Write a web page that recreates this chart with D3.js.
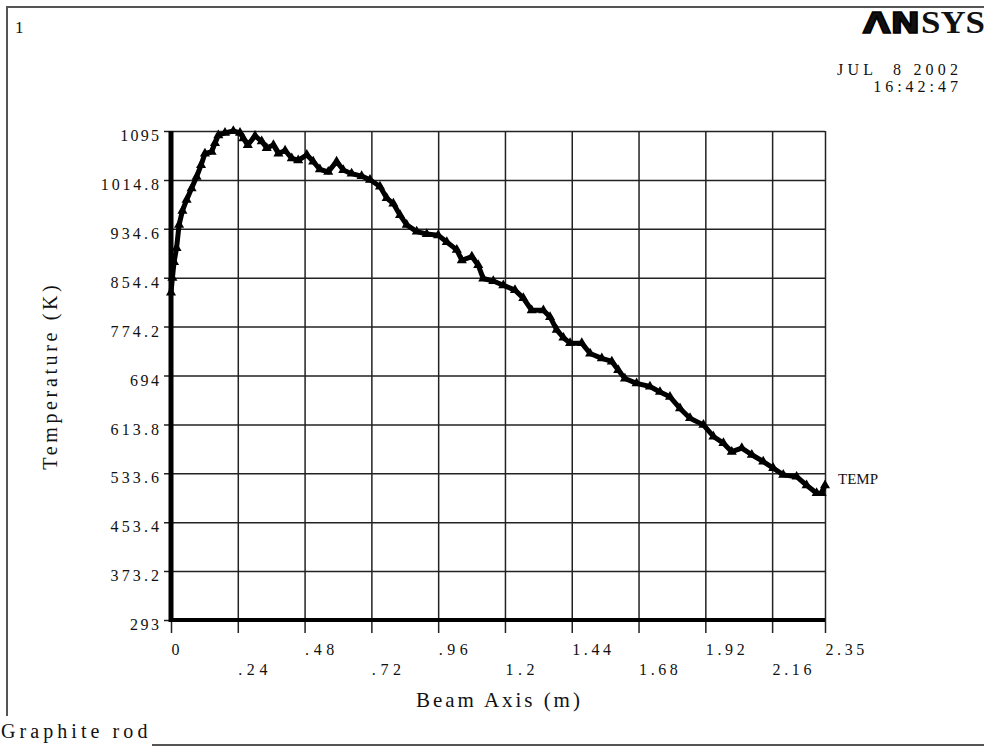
<!DOCTYPE html>
<html>
<head>
<meta charset="utf-8">
<script src="https://cdn.jsdelivr.net/npm/d3@7"></script>
<style>
  body { margin: 0; background: #fff; }
  svg { display: block; }
  text { font-family: "Liberation Serif", "DejaVu Serif", serif; fill: #111; white-space: pre; }
</style>
</head>
<body>
<div class="chart"></div>
<script>
// beam position (m) and temperature (K)
const beamPos = [
  0, 0.005, 0.011, 0.020, 0.029, 0.041, 0.056, 0.074, 0.092, 0.108,
  0.122, 0.146, 0.158, 0.170, 0.194, 0.224, 0.248, 0.260, 0.276, 0.302,
  0.326, 0.344, 0.368, 0.386, 0.410, 0.434, 0.457, 0.488, 0.511, 0.535,
  0.565, 0.595, 0.619, 0.649, 0.685, 0.715, 0.751, 0.775, 0.799, 0.823,
  0.847, 0.883, 0.919, 0.960, 0.991, 1.027, 1.045, 1.081, 1.104, 1.122,
  1.158, 1.194, 1.236, 1.266, 1.296, 1.338, 1.362, 1.386, 1.410, 1.434,
  1.476, 1.506, 1.548, 1.584, 1.607, 1.631, 1.673, 1.721, 1.757, 1.793,
  1.829, 1.865, 1.913, 1.949, 1.985, 2.015, 2.051, 2.087, 2.128, 2.164,
  2.200, 2.248, 2.284, 2.320, 2.338, 2.350
];
const temp = [
  830, 854, 880, 903, 941, 964, 982, 1001, 1020, 1039,
  1058, 1061, 1075, 1088, 1092, 1095, 1092, 1083, 1072, 1087,
  1078, 1067, 1072, 1058, 1063, 1050, 1047, 1056, 1045, 1032,
  1028, 1045, 1031, 1025, 1021, 1015, 1004, 985, 976, 957,
  941, 930, 926, 924, 913, 900, 883, 889, 875, 853,
  849, 842, 834, 821, 801, 801, 790, 769, 756, 747,
  747, 730, 722, 717, 703, 689, 681, 676, 667, 659,
  640, 624, 613, 594, 583, 569, 575, 564, 553, 542,
  531, 528, 514, 501, 501, 514
];

const xTicks = [0, 0.24, 0.48, 0.72, 0.96, 1.2, 1.44, 1.68, 1.92, 2.16, 2.35];
const xTickLabels = ["0", ".24", ".48", ".72", ".96", "1.2", "1.44", "1.68", "1.92", "2.16", "2.35"];
const yTicks = [293, 373.2, 453.4, 533.6, 613.8, 694, 774.2, 854.4, 934.6, 1014.8, 1095];
const yTickLabels = ["293", "373.2", "453.4", "533.6", "613.8", "694", "774.2", "854.4", "934.6", "1014.8", "1095"];

const w = 984, h = 746;
const plotLeft = 171, plotRight = 825, plotTop = 131, plotBottom = 620;

const data = beamPos.map((d, i) => ({ x: d, t: temp[i] }));

// spread a serif string out to a fixed per-character pitch (typewriter look)
function pitch(sel, adv) {
  sel.attr("textLength", function () {
    return this.textContent.length * adv;
  }).attr("lengthAdjust", "spacing");
}

const svg = d3.select(".chart").append("svg")
  .attr("width", w)
  .attr("height", h);

// page frame
svg.append("rect")
  .attr("x", 7).attr("y", 7)
  .attr("width", w).attr("height", h - 8)
  .attr("fill", "none")
  .attr("stroke", "#555")
  .attr("stroke-width", 2);

const xScale = d3.scaleLinear().domain([0, 2.35]).range([plotLeft, plotRight]);
const yScale = d3.scaleLinear().domain([293, 1095]).range([plotBottom, plotTop]);

// x grid + labels
const xAxis = d3.axisBottom(xScale)
  .tickValues(xTicks)
  .tickSize(-(plotBottom - plotTop))
  .tickFormat((d, i) => xTickLabels[i]);

const gx = svg.append("g")
  .attr("transform", `translate(0,${plotBottom})`)
  .call(xAxis);
gx.select(".domain").remove();
gx.selectAll(".tick line")
  .attr("y1", 13)
  .attr("stroke", "#222")
  .attr("stroke-width", 1.5);
gx.selectAll(".tick text")
  .attr("text-anchor", "start")
  .attr("x", 0)
  .attr("dy", null)
  .attr("y", (d, i) => (i % 2 === 0 ? 35 : 55))
  .style("font-size", "16px")
  .style("font-family", "Liberation Serif")
  .attr("fill", "#111")
  .call(pitch, 9.7);

// y grid + labels
const yAxis = d3.axisLeft(yScale)
  .tickValues(yTicks)
  .tickSize(-(plotRight - plotLeft))
  .tickFormat((d, i) => yTickLabels[i]);

const gy = svg.append("g")
  .attr("transform", `translate(${plotLeft},0)`)
  .call(yAxis);
gy.select(".domain").remove();
gy.selectAll(".tick line")
  .attr("x1", -7)
  .attr("stroke", "#222")
  .attr("stroke-width", 1.5);
gy.selectAll(".tick text")
  .attr("x", -12)
  .attr("dy", "0.6em")
  .style("font-size", "16px")
  .style("font-family", "Liberation Serif")
  .attr("fill", "#111")
  .call(pitch, 9.7);

// thick axis lines
svg.append("line")
  .attr("x1", plotLeft).attr("x2", plotLeft)
  .attr("y1", plotTop).attr("y2", plotBottom + 2)
  .attr("stroke", "#000").attr("stroke-width", 5);
svg.append("line")
  .attr("x1", plotLeft - 2).attr("x2", plotRight)
  .attr("y1", plotBottom).attr("y2", plotBottom)
  .attr("stroke", "#000").attr("stroke-width", 4);

// temperature curve
const line = d3.line()
  .x((d) => xScale(d.x))
  .y((d) => yScale(d.t));

svg.append("path")
  .datum(data)
  .attr("d", line)
  .attr("fill", "none")
  .attr("stroke", "#000")
  .attr("stroke-width", 5)
  .attr("stroke-linejoin", "round");

svg.selectAll(".marker")
  .data(data)
  .enter()
  .append("path")
  .attr("class", "marker")
  .attr("d", d3.symbol(d3.symbolTriangle).size(44))
  .attr("transform", (d) => `translate(${xScale(d.x)},${yScale(d.t)})`)
  .attr("fill", "#000");

svg.append("text")
  .attr("x", 838).attr("y", 484)
  .style("font-size", "15px")
  .text("TEMP");

// axis titles
svg.append("text")
  .attr("x", (plotLeft + plotRight) / 2).attr("y", 707)
  .attr("text-anchor", "middle")
  .style("font-size", "21px")
  .text("Beam Axis (m)")
  .call(pitch, 12.6);

svg.append("text")
  .attr("transform", `translate(57,${(plotTop + plotBottom) / 2 + 2}) rotate(-90)`)
  .attr("text-anchor", "middle")
  .style("font-size", "20px")
  .text("Temperature (K)")
  .call(pitch, 12.3);

// header
svg.append("text")
  .attr("x", 15).attr("y", 33)
  .style("font-size", "17px")
  .text("1");

svg.append("text")
  .attr("x", 958).attr("y", 75)
  .attr("text-anchor", "end")
  .style("font-size", "16px")
  .text("JUL  8 2002")
  .call(pitch, 11);

svg.append("text")
  .attr("x", 958).attr("y", 92)
  .attr("text-anchor", "end")
  .style("font-size", "16px")
  .text("16:42:47")
  .call(pitch, 10.6);

// logo
svg.append("text")
  .attr("x", 863).attr("y", 33)
  .attr("textLength", 57)
  .attr("lengthAdjust", "spacingAndGlyphs")
  .style("font-family", "DejaVu Sans")
  .style("font-weight", "900")
  .style("font-size", "29px")
  .attr("fill", "#000")
  .attr("stroke", "#000")
  .attr("stroke-width", 1.5)
  .text("ΛN");

svg.append("text")
  .attr("x", 921).attr("y", 33)
  .attr("textLength", 64)
  .attr("lengthAdjust", "spacingAndGlyphs")
  .style("font-family", "Liberation Serif")
  .style("font-weight", "bold")
  .style("font-size", "31px")
  .attr("fill", "#000")
  .text("SYS");

// footer
svg.append("rect")
  .attr("x", 0).attr("y", 716)
  .attr("width", 152).attr("height", 30)
  .attr("fill", "#fff");

svg.append("text")
  .attr("x", 1).attr("y", 738)
  .style("font-size", "20px")
  .text("Graphite rod")
  .call(pitch, 12.2);
</script>
</body>
</html>
